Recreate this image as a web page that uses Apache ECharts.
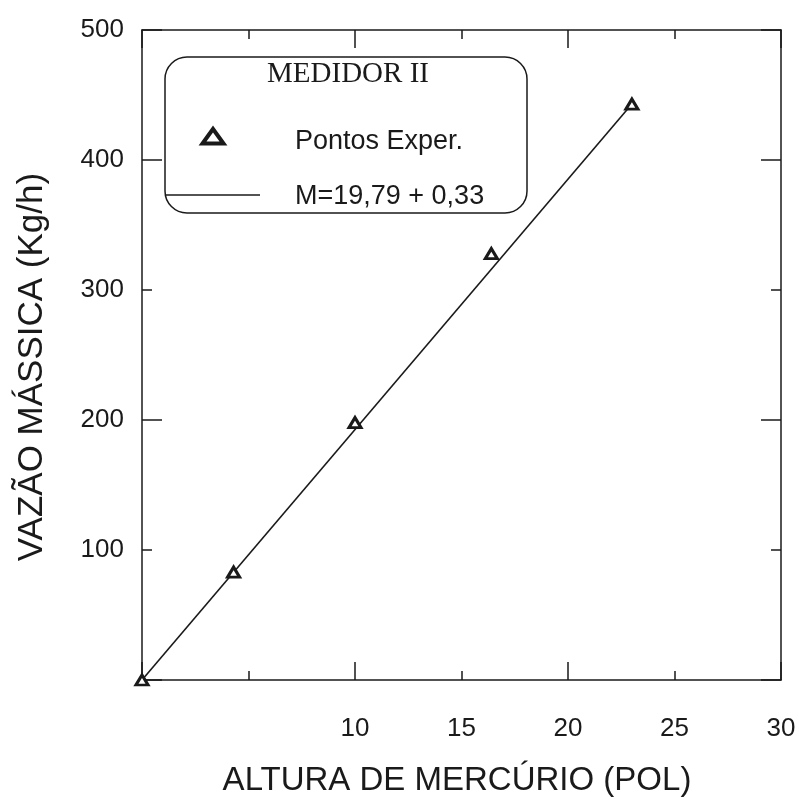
<!DOCTYPE html>
<html>
<head>
<meta charset="utf-8">
<script src="https://cdn.jsdelivr.net/npm/echarts@6/dist/echarts.min.js"></script>
<style>html,body{margin:0;padding:0;background:#fff;}#c{width:799px;height:805px;}</style>
</head>
<body>
<div id="c"></div>
<script>
// Data
var pointsX = [0, 4.3, 10.0, 16.4, 23.0];
var pointsY = [0, 83, 198, 328, 443];
var fitX = [0, 23.0];
var fitY = [0, 443];
var xTickLabels = ['10', '15', '20', '25', '30'];
var yTickLabels = ['100', '200', '300', '400', '500'];
var xTitle = 'ALTURA DE MERCÚRIO (POL)';
var yTitle = 'VAZÃO MÁSSICA (Kg/h)';
var legendTitle = 'MEDIDOR II';
var legendPoints = 'Pontos Exper.';
var legendFit = 'M=19,79 + 0,33';

var INK = '#1a1a1a';
var SANS = '"Liberation Sans", Arial, sans-serif';

function pairs(xs, ys) { return xs.map(function (x, i) { return [x, ys[i]]; }); }

function xAx(pos, interval, tickLen, showLine, showLabel) {
  return {
    type: 'value', position: pos, min: 0, max: 30, interval: interval,
    axisLine: { show: showLine, onZero: false, lineStyle: { color: INK, width: 1.5 } },
    axisTick: { show: true, inside: true, length: tickLen, lineStyle: { color: INK, width: 1.5 } },
    axisLabel: {
      show: showLabel, margin: 36, color: INK, fontSize: 26, fontFamily: SANS,
      formatter: function (v) { var s = String(v); return xTickLabels.indexOf(s) >= 0 ? s : ''; }
    },
    splitLine: { show: false }
  };
}
function yAx(pos, interval, tickLen, showLine, showLabel) {
  return {
    type: 'value', position: pos, min: 0, max: 500, interval: interval,
    axisLine: { show: showLine, onZero: false, lineStyle: { color: INK, width: 1.5 } },
    axisTick: { show: true, inside: true, length: tickLen, lineStyle: { color: INK, width: 1.5 } },
    axisLabel: {
      show: showLabel, margin: 18, color: INK, fontSize: 26, fontFamily: SANS,
      formatter: function (v) { var s = String(v); return yTickLabels.indexOf(s) >= 0 ? s : ''; }
    },
    splitLine: { show: false }
  };
}

var chart = echarts.init(document.getElementById('c'), null, { renderer: 'canvas' });
chart.setOption({
  backgroundColor: '#fff',
  animation: false,
  grid: { left: 142, right: 18, top: 30, bottom: 125, containLabel: false },
  xAxis: [
    xAx('bottom', 5, 9, true, true),
    xAx('bottom', 10, 18, false, false),
    xAx('top', 5, 9, true, false),
    xAx('top', 10, 18, false, false)
  ],
  yAxis: [
    yAx('left', 100, 10, true, true),
    yAx('left', 200, 20, false, false),
    yAx('right', 100, 10, true, false),
    yAx('right', 200, 20, false, false)
  ],
  series: [
    {
      type: 'line', xAxisIndex: 0, yAxisIndex: 0,
      data: pairs(fitX, fitY), showSymbol: false, symbol: 'none',
      lineStyle: { color: INK, width: 1.6 }, clip: false, z: 2
    },
    {
      type: 'scatter', xAxisIndex: 0, yAxisIndex: 0,
      data: pairs(pointsX, pointsY), symbol: 'triangle', symbolSize: [12, 10],
      itemStyle: { color: '#fff', borderColor: INK, borderWidth: 3, opacity: 1 }, clip: false, z: 3
    }
  ],
  graphic: [
    { type: 'rect', shape: { x: 165, y: 57, width: 362, height: 156, r: 22 },
      style: { fill: 'none', stroke: INK, lineWidth: 1.5 }, z: 10 },
    { type: 'text', x: 348, y: 74, z: 11,
      style: { text: legendTitle, font: '29px "Liberation Serif", "Times New Roman", serif', fill: INK,
               align: 'center', verticalAlign: 'middle', textAlign: 'center', textVerticalAlign: 'middle' } },
    { type: 'polygon', z: 11, shape: { points: [[213, 129], [223.5, 143.5], [202.5, 143.5]] },
      style: { fill: '#fff', stroke: INK, lineWidth: 4, lineJoin: 'miter' } },
    { type: 'text', x: 295, y: 142, z: 11,
      style: { text: legendPoints, font: '27px ' + SANS, fill: INK,
               align: 'left', verticalAlign: 'middle', textAlign: 'left', textVerticalAlign: 'middle' } },
    { type: 'line', z: 11, shape: { x1: 165, y1: 195, x2: 260, y2: 195 },
      style: { stroke: INK, lineWidth: 1.5 } },
    { type: 'text', x: 295, y: 197, z: 11,
      style: { text: legendFit, font: '27px ' + SANS, fill: INK,
               align: 'left', verticalAlign: 'middle', textAlign: 'left', textVerticalAlign: 'middle' } },
    { type: 'text', x: 457, y: 781, z: 11,
      style: { text: xTitle, font: '33px ' + SANS, fill: INK,
               align: 'center', verticalAlign: 'middle', textAlign: 'center', textVerticalAlign: 'middle' } },
    { type: 'text', x: 32, y: 367, rotation: Math.PI / 2, z: 11,
      style: { text: yTitle, font: '35px ' + SANS, fill: INK,
               align: 'center', verticalAlign: 'middle', textAlign: 'center', textVerticalAlign: 'middle' } }
  ]
});
</script>
</body>
</html>
